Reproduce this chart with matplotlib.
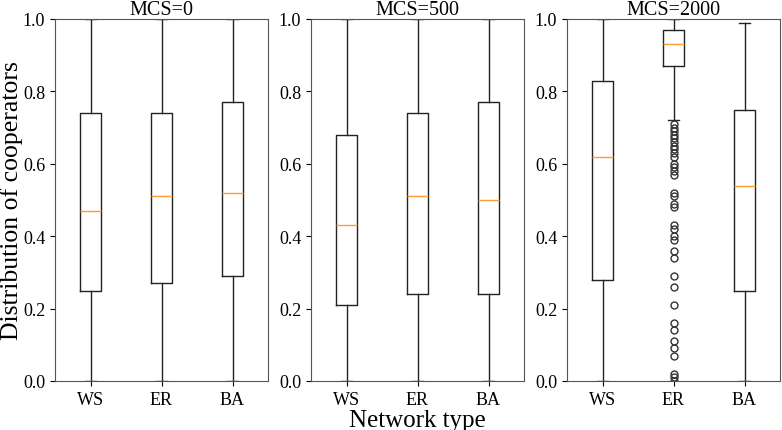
import matplotlib.pyplot as plt

plt.rcParams['font.family'] = ['Liberation Serif', 'DejaVu Serif']

networks = ['WS', 'ER', 'BA']
titles = ['MCS=0', 'MCS=500', 'MCS=2000']

# box stats per panel, order WS, ER, BA
q1 = [[0.25, 0.27, 0.29], [0.21, 0.24, 0.24], [0.28, 0.87, 0.25]]
med = [[0.47, 0.51, 0.52], [0.43, 0.51, 0.50], [0.62, 0.93, 0.54]]
q3 = [[0.74, 0.74, 0.77], [0.68, 0.74, 0.77], [0.83, 0.97, 0.75]]
whislo = [[0.0, 0.0, 0.0], [0.0, 0.0, 0.0], [0.0, 0.72, 0.0]]
whishi = [[1.0, 1.0, 1.0], [1.0, 1.0, 1.0], [1.0, 1.0, 0.99]]

# outliers of ER at MCS=2000
er_fliers = [0.71, 0.70, 0.69, 0.68, 0.67, 0.66, 0.65, 0.64, 0.63, 0.62,
             0.60, 0.59, 0.58, 0.57, 0.52, 0.51, 0.49, 0.48, 0.43, 0.42,
             0.40, 0.39, 0.36, 0.34, 0.29, 0.26, 0.21, 0.16, 0.14, 0.11,
             0.09, 0.07, 0.02, 0.01, 0.0]
fliers = [[[], [], []], [[], [], []], [[], er_fliers, []]]

fig = plt.figure(figsize=(7.82, 4.31), dpi=100)
lefts = [55, 311, 567]
axes = []
for p in range(3):
    ax = fig.add_axes([lefts[p] / 782, 1 - 382 / 431, 213 / 782, 362 / 431])
    stats = []
    for i, name in enumerate(networks):
        stats.append(dict(label=name, q1=q1[p][i], med=med[p][i], q3=q3[p][i],
                          whislo=whislo[p][i], whishi=whishi[p][i],
                          fliers=fliers[p][i]))
    ax.bxp(stats, widths=0.3,
           boxprops=dict(color='#222222', linewidth=1),
           whiskerprops=dict(color='#222222', linewidth=1),
           capprops=dict(color='#222222', linewidth=1),
           medianprops=dict(color='#ff9a2e', linewidth=1),
           flierprops=dict(marker='o', markerfacecolor='none',
                           markeredgecolor='#333333', markersize=5))
    ax.set_ylim(0, 1)
    ax.set_yticks([0.0, 0.2, 0.4, 0.6, 0.8, 1.0])
    ax.tick_params(labelsize=13)
    ax.set_title(titles[p], fontsize=14.5, pad=2)
    for s in ax.spines.values():
        s.set_color('#555555')
    axes.append(ax)

fig.text(12 / 782, 1 - 201 / 431, 'Distribution of cooperators', fontsize=18.5,
         rotation=90, ha='center', va='center')
axes[1].set_xlabel('Network type', fontsize=18, labelpad=1)

fig.savefig('out.png', dpi=100)
